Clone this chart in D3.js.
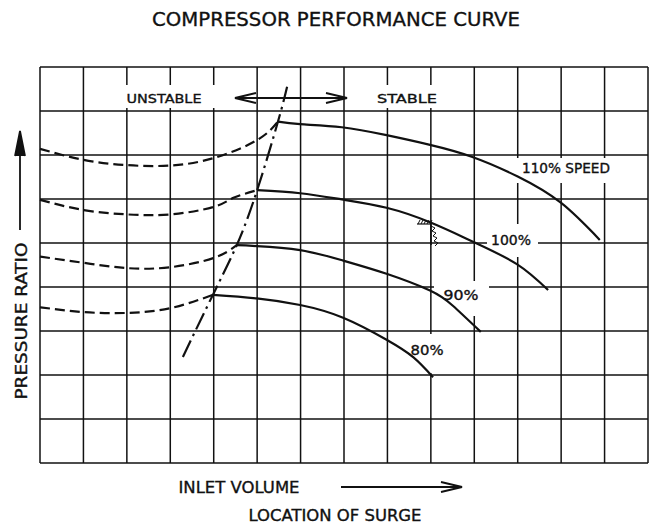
<!DOCTYPE html>
<html>
<head>
<meta charset="utf-8">
<script src="https://cdn.jsdelivr.net/npm/d3@7"></script>
<style>
  body { margin: 0; background: #fff; }
  text { font-family: "DejaVu Sans", sans-serif; fill: #111; stroke: #111; stroke-width: 0.35; }
</style>
</head>
<body>
<div id="chart"></div>
<script>
// grid: 14 columns x 9 rows, no numeric ticks on the original
const cols = d3.range(0, 15)
const rows = d3.range(0, 10)

const speeds = ["110% SPEED", "100%", "90%", "80%"]

// unstable (dashed) part of each speed line, left of the surge line
const unstable110 = [[0,7.14],[1,6.89],[2,6.77],[3,6.76],[4,6.93],[5,7.34],[5.48,7.76]]
const unstable100 = [[0,5.98],[1,5.75],[2,5.65],[3,5.65],[4,5.82],[4.44,6.02],[5.0,6.2]]
const unstable90  = [[0,4.69],[1,4.55],[2,4.43],[3,4.45],[4,4.66],[4.53,4.95]]
const unstable80  = [[0,3.54],[1,3.43],[2,3.41],[3,3.52],[3.98,3.82]]

// stable (solid) part
const stable110 = [[5.48,7.76],[5.99,7.70],[6.95,7.63],[7.98,7.45],[8.98,7.23],[9.94,6.96],[11.0,6.51],[12.0,5.91],[12.89,5.07]]
const stable100 = [[5.0,6.2],[5.99,6.13],[6.95,5.99],[7.98,5.8],[8.98,5.47],[9.97,5.03],[10.98,4.52],[11.7,3.93]]
const stable90  = [[4.53,4.95],[4.99,4.93],[5.99,4.84],[6.98,4.6],[7.98,4.3],[8.98,3.92],[9.5,3.58],[10.15,2.98]]
const stable80  = [[3.98,3.82],[4.99,3.74],[5.99,3.59],[6.98,3.3],[7.98,2.8],[8.6,2.4],[9.05,1.95]]

// surge line through the peaks
const surge = [[3.29,2.41],[3.98,3.82],[4.53,4.95],[5.0,6.2],[5.48,7.76],[5.69,8.55]]

const W = 652, H = 524
const gLeft = 40, gRight = 648, gTop = 67, gBottom = 463

const svg = d3.select("#chart")
    .append("svg")
        .attr("width", W)
        .attr("height", H)

const xScale = d3.scaleLinear().domain([0, 14]).range([gLeft, gRight])
const yScale = d3.scaleLinear().domain([0, 9]).range([gBottom, gTop])

// grid lines
const grid = svg.append("g")
    .attr("stroke", "#111")
    .attr("stroke-width", 1.5)

grid.selectAll("line.v")
    .data(cols)
    .join("line")
        .attr("class", "v")
        .attr("x1", d => xScale(d)).attr("x2", d => xScale(d))
        .attr("y1", gTop).attr("y2", gBottom)

grid.selectAll("line.h")
    .data(rows)
    .join("line")
        .attr("class", "h")
        .attr("y1", d => yScale(d)).attr("y2", d => yScale(d))
        .attr("x1", gLeft).attr("x2", gRight)

// white gaps in the grid behind the labels
const gaps = [
    [121, 85, 96, 23],   // UNSTABLE
    [372, 85, 70, 23],   // STABLE
    [512, 158, 103, 25], // 110% SPEED
    [487, 224, 51, 33],  // 100%
    [434, 281, 55, 35],  // 90%
    [405, 334, 45, 39]   // 80%
]
svg.append("g").selectAll("rect")
    .data(gaps)
    .join("rect")
        .attr("x", d => d[0]).attr("y", d => d[1])
        .attr("width", d => d[2]).attr("height", d => d[3])
        .attr("fill", "#fff")

// speed lines
const line = d3.line()
    .x(d => xScale(d[0]))
    .y(d => yScale(d[1]))
    .curve(d3.curveNatural)

const curves = svg.append("g")
    .attr("fill", "none")
    .attr("stroke", "#111")
    .attr("stroke-width", 2.2)

curves.selectAll("path.unstable")
    .data([unstable110, unstable100, unstable90, unstable80])
    .join("path")
        .attr("class", "unstable")
        .attr("d", line)
        .attr("stroke-dasharray", "10,5")

curves.selectAll("path.stable")
    .data([stable110, stable100, stable90, stable80])
    .join("path")
        .attr("class", "stable")
        .attr("d", line)

curves.append("path")
    .datum(surge)
    .attr("d", line)
    .attr("stroke-dasharray", "18,5,2.5,5")

// hatched mark on the 100% line
const hx = 431, hy = 223
const hatch = svg.append("g").attr("stroke", "#111").attr("fill", "none")
hatch.append("line").attr("x1", 417).attr("x2", hx).attr("y1", hy + 1).attr("y2", hy + 1).attr("stroke-width", 1.2)
hatch.selectAll("line.t")
    .data(d3.range(0, 5))
    .join("line")
        .attr("class", "t")
        .attr("x1", d => 418 + d * 3).attr("x2", d => 420 + d * 3)
        .attr("y1", hy + 1).attr("y2", hy - 3)
        .attr("stroke-width", 1)
hatch.append("line").attr("x1", hx).attr("x2", hx).attr("y1", hy).attr("y2", 245).attr("stroke-width", 1.6)
hatch.append("path")
    .attr("d", "M" + hx + "," + (hy + 3) + " l4,2 l-3,3 l4,2 l-3,3 l4,2 l-3,3 l4,2 l-3,3")
    .attr("stroke-width", 1)

// arrows
const arrows = svg.append("g")
    .attr("stroke", "#111")
    .attr("stroke-width", 1.8)
    .attr("fill", "none")

arrows.append("path").attr("d", "M235,98 L347,98")
arrows.append("path").attr("d", "M256,93 L235,98 L256,103")
arrows.append("path").attr("d", "M326,93 L347,98 L326,103")

arrows.append("path").attr("d", "M20,230 L20,131")
arrows.append("path").attr("d", "M15,156 L20,131 L25,156").attr("fill", "#111")

arrows.append("path").attr("d", "M341,487 L462,487")
arrows.append("path").attr("d", "M441,482 L462,487 L441,492")

// texts
function label(txt, x, y, size, len) {
    svg.append("text")
        .attr("x", x).attr("y", y)
        .attr("font-size", size)
        .attr("text-anchor", "middle")
        .attr("textLength", len)
        .attr("lengthAdjust", "spacingAndGlyphs")
        .text(txt)
}

label("COMPRESSOR PERFORMANCE CURVE", 336, 26, 19.5, 368)
label("UNSTABLE", 164, 103, 13, 75)
label("STABLE", 407, 103, 13, 60)
label(speeds[0], 566, 173, 13.5, 88)
label(speeds[1], 511, 245, 13.5, 40)
label(speeds[2], 461, 300, 13.5, 35)
label(speeds[3], 427, 355, 13.5, 33)
label("INLET VOLUME", 239, 493, 16, 121)
label("LOCATION OF SURGE", 335, 521, 15, 173)

svg.append("text")
    .attr("transform", "translate(27,321) rotate(-90)")
    .attr("font-size", 16)
    .attr("text-anchor", "middle")
    .attr("textLength", 157)
    .attr("lengthAdjust", "spacingAndGlyphs")
    .text("PRESSURE RATIO")
</script>
</body>
</html>
